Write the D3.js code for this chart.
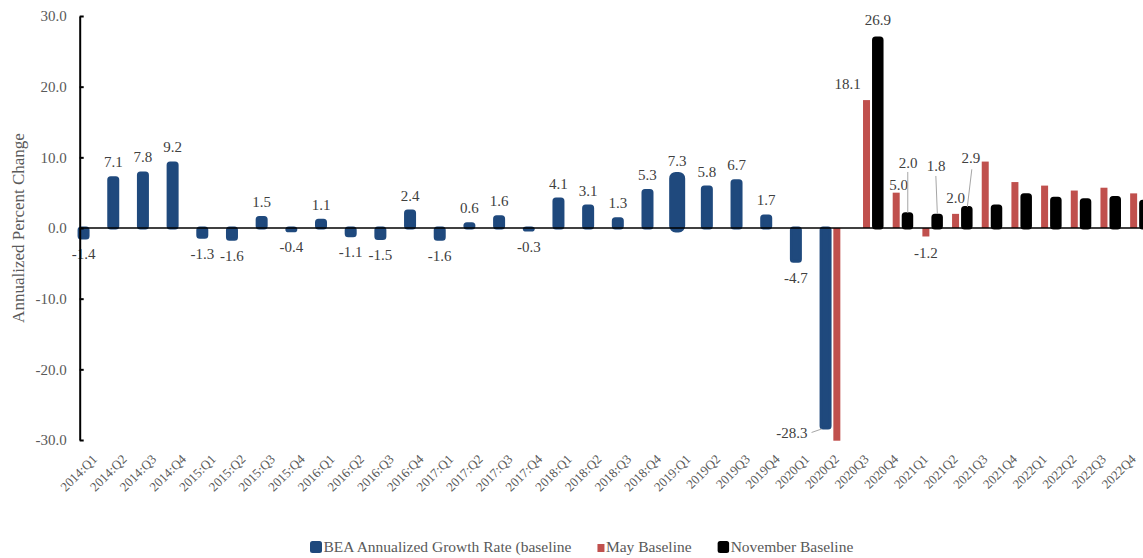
<!DOCTYPE html>
<html>
<head>
<meta charset="utf-8">
<script src="https://cdn.jsdelivr.net/npm/d3@7"></script>
<style>
  body { margin: 0; background: #fff; }
  text { font-family: "Liberation Serif", "Times New Roman", serif; }
</style>
</head>
<body>
<svg id="chart" width="1143" height="558"></svg>
<script>
// Quarters on the x axis
const quarters = [
  "2014:Q1","2014:Q2","2014:Q3","2014:Q4","2015:Q1","2015:Q2","2015:Q3","2015:Q4",
  "2016:Q1","2016:Q2","2016:Q3","2016:Q4","2017:Q1","2017:Q2","2017:Q3","2017:Q4",
  "2018:Q1","2018:Q2","2018:Q3","2018:Q4","2019:Q1","2019Q2","2019Q3","2019Q4",
  "2020Q1","2020Q2","2020Q3","2020Q4","2021Q1","2021Q2","2021Q3","2021Q4",
  "2022Q1","2022Q2","2022Q3","2022Q4"
];

// Series values (null = no bar)
const beaGrowth = [
  -1.4, 7.1, 7.8, 9.2, -1.3, -1.6, 1.5, -0.4,
  1.1, -1.1, -1.5, 2.4, -1.6, 0.6, 1.6, -0.3,
  4.1, 3.1, 1.3, 5.3, 7.3, 5.8, 6.7, 1.7,
  -4.7, -28.3, null, null, null, null, null, null,
  null, null, null, null
];
const mayBaseline = [
  null, null, null, null, null, null, null, null,
  null, null, null, null, null, null, null, null,
  null, null, null, null, null, null, null, null,
  null, -30.1, 18.1, 5.0, -1.2, 2.0, 9.4, 6.5,
  6.0, 5.3, 5.7, 4.9
];
const novBaseline = [
  null, null, null, null, null, null, null, null,
  null, null, null, null, null, null, null, null,
  null, null, null, null, null, null, null, null,
  null, null, 26.9, 2.0, 1.8, 2.9, 3.1, 4.7,
  4.2, 4.0, 4.3, 3.8
];

const seriesNames = ["BEA Annualized Growth Rate (baseline", "May Baseline", "November Baseline"];
const yTicks = [-30, -20, -10, 0, 10, 20, 30];

// which points carry a data label
const labelledMay = ["2020Q3", "2020Q4", "2021Q1", "2021Q2"];
const labelledNov = ["2020Q3", "2020Q4", "2021Q1", "2021Q2"];

// style per series
const seriesStyle = [
  { color: "#1F497D", width: 9, stroke: 3, rx: 2 },
  { color: "#C0504D", width: 7, stroke: 0, rx: 0 },
  { color: "#000000", width: 8.5, stroke: 3, rx: 2 }
];

// manual label placement (offsets from bar end), some with leader lines
const labelPlace = {
  "0|2020Q2": { dx: -18, dy: 10, anchor: "end", leader: [[-14, 4.5], [-4, 1]] },
  "1|2020Q3": { dx: -19, dy: -11.5 },
  "2|2020Q3": { dx: 0, dy: -13 },
  "1|2020Q4": { dx: 2.4, dy: -2.7 },
  "2|2020Q4": { dx: 0.6, dy: -45.6, leader: [[0.3, -41.9], [0.3, -1]] },
  "2|2021Q1": { dx: -1, dy: -44.6, leader: [[-1.3, -39.3], [0.2, -1.3]] },
  "2|2021Q2": { dx: 4, dy: -44.2, leader: [[5, -38.2], [0.5, -0.5]] }
};

const svg = d3.select("#chart");
const W = 1143, H = 558;

const axisX = 80;
const step = 29.68;

const x = d3.scaleBand()
  .domain(quarters)
  .range([axisX, axisX + step * quarters.length])
  .padding(0);

// slot offsets inside a category for the three series
const xs = d3.scaleBand()
  .domain([0, 1, 2])
  .range([-16.9, 16.9]);

const y = d3.scaleLinear()
  .domain([-30, 30])
  .range([440, 16]);

// build flat list of bars
const allSeries = [beaGrowth, mayBaseline, novBaseline];
const bars = [];
allSeries.forEach(function(vals, s) {
  vals.forEach(function(v, i) {
    if (v === null) return;
    bars.push({ s: s, q: quarters[i], v: v });
  });
});

function cx(d) {
  return x(d.q) + x.bandwidth() / 2 + xs(d.s) + xs.bandwidth() / 2;
}

// Bars
svg.append("g").selectAll("rect")
  .data(bars)
  .enter().append("rect")
  .attr("x", d => cx(d) - (d.q === "2019:Q1" ? 3.5 : seriesStyle[d.s].width / 2))
  .attr("width", d => d.q === "2019:Q1" ? 7 : seriesStyle[d.s].width)
  .attr("y", d => Math.min(y(d.v), y(0)))
  .attr("height", d => Math.abs(y(d.v) - y(0)))
  .attr("rx", d => seriesStyle[d.s].rx)
  .attr("fill", d => seriesStyle[d.s].color)
  .attr("stroke", d => seriesStyle[d.s].stroke ? seriesStyle[d.s].color : "none")
  .attr("stroke-width", d => d.q === "2019:Q1" ? 9 : seriesStyle[d.s].stroke)
  .attr("stroke-linejoin", "round");

// Zero line
svg.append("line")
  .attr("x1", axisX).attr("x2", W)
  .attr("y1", y(0)).attr("y2", y(0))
  .attr("stroke", "#000")
  .attr("stroke-width", 1.3);

// Data labels
const labelled = bars.filter(d =>
  d.s === 0 ||
  (d.s === 1 && labelledMay.includes(d.q)) ||
  (d.s === 2 && labelledNov.includes(d.q)));

const labelG = svg.append("g");
labelled.forEach(function(d) {
  const px = cx(d), py = y(d.v);
  const p = labelPlace[d.s + "|" + d.q];
  let tx, ty, anchor = "middle";
  if (p) {
    tx = px + p.dx; ty = py + p.dy;
    if (p.anchor) anchor = p.anchor;
    if (p.leader) {
      labelG.append("line")
        .attr("x1", px + p.leader[0][0]).attr("y1", py + p.leader[0][1])
        .attr("x2", px + p.leader[1][0]).attr("y2", py + p.leader[1][1])
        .attr("stroke", "#A6A6A6")
        .attr("stroke-width", 1);
    }
  } else {
    tx = px;
    ty = d.v >= 0 ? py - 10.5 : py + 21.5;
  }
  labelG.append("text")
    .attr("x", tx)
    .attr("y", ty)
    .attr("text-anchor", anchor)
    .attr("fill", "#404040")
    .style("font-size", "15px")
    .text(d.v.toFixed(1));
});

// Y axis
const yAxis = svg.append("g")
  .attr("transform", "translate(" + (axisX - 0.3) + ",0)")
  .call(d3.axisLeft(y)
    .tickValues(yTicks)
    .tickSizeInner(-4)
    .tickSizeOuter(0)
    .tickPadding(13)
    .tickFormat(d => d.toFixed(1)));
yAxis.select(".domain").attr("stroke", "#000").attr("stroke-width", 2);
yAxis.selectAll(".tick line").attr("stroke", "#000").attr("stroke-width", 2);
yAxis.selectAll(".tick text")
  .attr("fill", "#595959")
  .style("font-size", "15px")
  .style("font-family", "'Liberation Serif', 'Times New Roman', serif");

// Y axis title
svg.append("text")
  .attr("transform", "translate(24," + 228 + ") rotate(-90)")
  .attr("text-anchor", "middle")
  .attr("fill", "#595959")
  .style("font-size", "17px")
  .text("Annualized Percent Change");

// X axis labels (rotated)
const xAxis = svg.append("g")
  .attr("transform", "translate(0,460)")
  .call(d3.axisBottom(x).tickSize(0).tickPadding(0));
xAxis.select(".domain").remove();
xAxis.selectAll(".tick text")
  .attr("x", 0).attr("y", 0).attr("dy", 0)
  .attr("text-anchor", "end")
  .attr("transform", "translate(3,0) rotate(-45)")
  .attr("fill", "#595959")
  .style("font-size", "13px")
  .style("font-family", "'Liberation Serif', 'Times New Roman', serif");

// Legend
const legendMarks = [
  { w: 12, h: 12, dy: 0, rx: 2.5 },
  { w: 7, h: 8, dy: 3, rx: 0 },
  { w: 11.5, h: 12, dy: 0, rx: 2.5 }
];
let lx = 310;
const legend = svg.append("g");
seriesNames.forEach(function(name, i) {
  const m = legendMarks[i];
  legend.append("rect")
    .attr("x", lx).attr("y", 541 + m.dy)
    .attr("width", m.w).attr("height", m.h)
    .attr("rx", m.rx)
    .attr("fill", seriesStyle[i].color);
  const t = legend.append("text")
    .attr("x", lx + m.w + 1.5)
    .attr("y", 552)
    .attr("fill", "#595959")
    .style("font-size", "15.5px")
    .text(name);
  lx = lx + m.w + 1.5 + t.node().getComputedTextLength() + 26;
});
</script>
</body>
</html>
